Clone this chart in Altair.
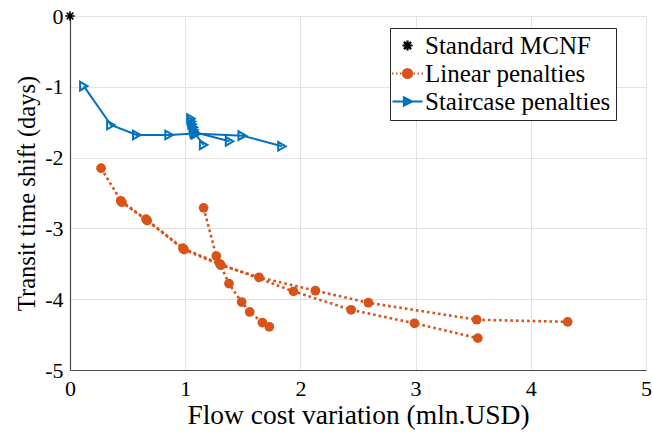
import altair as alt
import pandas as pd

# ---------------- data ----------------
SERIES = ["Standard MCNF", "Linear penalties", "Staircase penalties"]

std_x = [0.0]
std_y = [0.0]

# Linear penalties: three traced paths
lin1_x = [0.27, 0.45, 0.67, 0.99, 1.31, 1.64, 2.13, 2.59, 3.53, 4.32]
lin1_y = [-2.15, -2.63, -2.89, -3.30, -3.52, -3.69, -3.88, -4.05, -4.29, -4.32]
lin2_x = [0.44, 0.66, 0.98, 1.30, 1.94, 2.44, 2.99, 3.54]
lin2_y = [-2.61, -2.87, -3.28, -3.50, -3.89, -4.15, -4.34, -4.55]
lin3_x = [1.16, 1.27, 1.38, 1.49, 1.56, 1.67, 1.73]
lin3_y = [-2.71, -3.39, -3.78, -4.04, -4.18, -4.33, -4.39]

# Staircase penalties: three traced paths
st1_x = [0.12, 0.355, 0.58, 0.86, 1.08, 1.495, 1.84]
st1_y = [-0.99, -1.54, -1.68, -1.68, -1.66, -1.69, -1.84]
st2_x = [1.05, 1.055, 1.06, 1.07, 1.075, 1.08, 1.385]
st2_y = [-1.45, -1.49, -1.53, -1.57, -1.61, -1.64, -1.77]
st3_x = [1.09, 1.16]
st3_y = [-1.67, -1.82]

x_ticks = [0, 1, 2, 3, 4, 5]
y_ticks = [0, -1, -2, -3, -4, -5]

# ---------------- styles ----------------
ORANGE = "#D95319"
BLUE = "#0072BD"
FONT = "'Liberation Serif', 'DejaVu Serif', 'Times New Roman', Times, serif"

ASTERISK = "M-1,0L1,0M0,-1L0,1M-0.7,-0.7L0.7,0.7M-0.7,0.7L0.7,-0.7"
LEG_STD = "M-0.5,0L0.5,0M0,-0.5L0,0.5M-0.36,-0.36L0.36,0.36M-0.36,0.36L0.36,-0.36"
LEG_LIN = ("M-1.55,0L-1.4,0M-1.15,0L-1.0,0M-0.75,0L-0.6,0"
           "M0.6,0L0.75,0M1.0,0L1.15,0M1.4,0L1.55,0"
           "M-0.45,0A0.45,0.45,0,1,0,0.45,0A0.45,0.45,0,1,0,-0.45,0Z")
LEG_ST = "M-1.5,0L1.5,0M-0.35,-0.4L0.45,0L-0.35,0.4Z"

rows = []
def add(series, path, xs, ys):
    for i, (a, b) in enumerate(zip(xs, ys)):
        rows.append({"series": series, "path": path, "order": i, "x": a, "y": b})

add(SERIES[0], "s0", std_x, std_y)
add(SERIES[1], "l1", lin1_x, lin1_y)
add(SERIES[1], "l2", lin2_x, lin2_y)
add(SERIES[1], "l3", lin3_x, lin3_y)
add(SERIES[2], "b1", st1_x, st1_y)
add(SERIES[2], "b2", st2_x, st2_y)
add(SERIES[2], "b3", st3_x, st3_y)
df = pd.DataFrame(rows)

X = alt.X("x:Q",
          scale=alt.Scale(domain=[0, 5], nice=False, zero=False),
          axis=alt.Axis(values=x_ticks, title="Flow cost variation (mln.USD)",
                        labelPadding=8, titlePadding=2, labelFlush=False,
                        titleFontSize=27.5))
Y = alt.Y("y:Q",
          scale=alt.Scale(domain=[-5, 0], nice=False, zero=False),
          axis=alt.Axis(values=y_ticks, title="Transit time shift (days)",
                        labelExpr="toString(datum.value)", labelFlush=False,
                        labelPadding=7, titlePadding=5, titleFontSize=24.5))

base = alt.Chart(df)

lin_line = base.transform_filter(alt.datum.series == SERIES[1]).mark_line(
    color=ORANGE, strokeWidth=2.6, strokeDash=[2.6, 3.0]
).encode(x=X, y=Y, detail="path:N", order="order:Q")

lin_pts = base.transform_filter(alt.datum.series == SERIES[1]).mark_point(
    shape="circle", filled=True, size=95, color=ORANGE, opacity=1
).encode(x=X, y=Y)

st_line = base.transform_filter(alt.datum.series == SERIES[2]).mark_line(
    color=BLUE, strokeWidth=2
).encode(x=X, y=Y, detail="path:N", order="order:Q")

st_pts = base.transform_filter(alt.datum.series == SERIES[2]).mark_point(
    shape="triangle-right", filled=False, size=75, color=BLUE, strokeWidth=2, opacity=1
).encode(x=X, y=Y)

std_pts = base.transform_filter(alt.datum.series == SERIES[0]).mark_point(
    shape=ASTERISK, filled=False, size=90, color="black", strokeWidth=1.6,
    opacity=1, clip=False
).encode(x=X, y=Y)

leg = alt.Legend(
    title=None, orient="none", legendX=320, legendY=12, direction="vertical",
    strokeColor="#262626", fillColor="white", padding=5, cornerRadius=0,
    symbolSize=400, symbolStrokeWidth=2.2, symbolOpacity=1,
    labelFont=FONT, labelFontSize=25, labelColor="black",
    labelOffset=5, rowPadding=2, labelLimit=400, offset=0,
)

legend_layer = base.mark_point(filled=True, opacity=0).encode(
    x=X, y=Y,
    fill=alt.Fill("series:N", scale=alt.Scale(domain=SERIES, range=["black", ORANGE, BLUE]), legend=leg),
    stroke=alt.Stroke("series:N", scale=alt.Scale(domain=SERIES, range=["black", ORANGE, BLUE]), legend=leg),
    shape=alt.Shape("series:N", scale=alt.Scale(domain=SERIES, range=[LEG_STD, LEG_LIN, LEG_ST]), legend=leg),
)

chart = alt.layer(legend_layer, std_pts, lin_line, lin_pts, st_line, st_pts).properties(
    width=576, height=354,
    padding={"left": 70, "top": 16, "right": 6, "bottom": 64},
    autosize=alt.AutoSizeParams(type="none"),
    background="white",
).configure_view(strokeWidth=0).configure_axis(
    labelFont=FONT, labelFontSize=22, labelColor="black",
    titleFont=FONT, titleFontWeight="normal", titleColor="black",
    gridColor="#e2e2e2", gridWidth=1, domainColor="#4a4a4a", domainWidth=1.2,
    ticks=False,
)

chart.save("out.html", embed_options={"renderer": "svg", "actions": False})
